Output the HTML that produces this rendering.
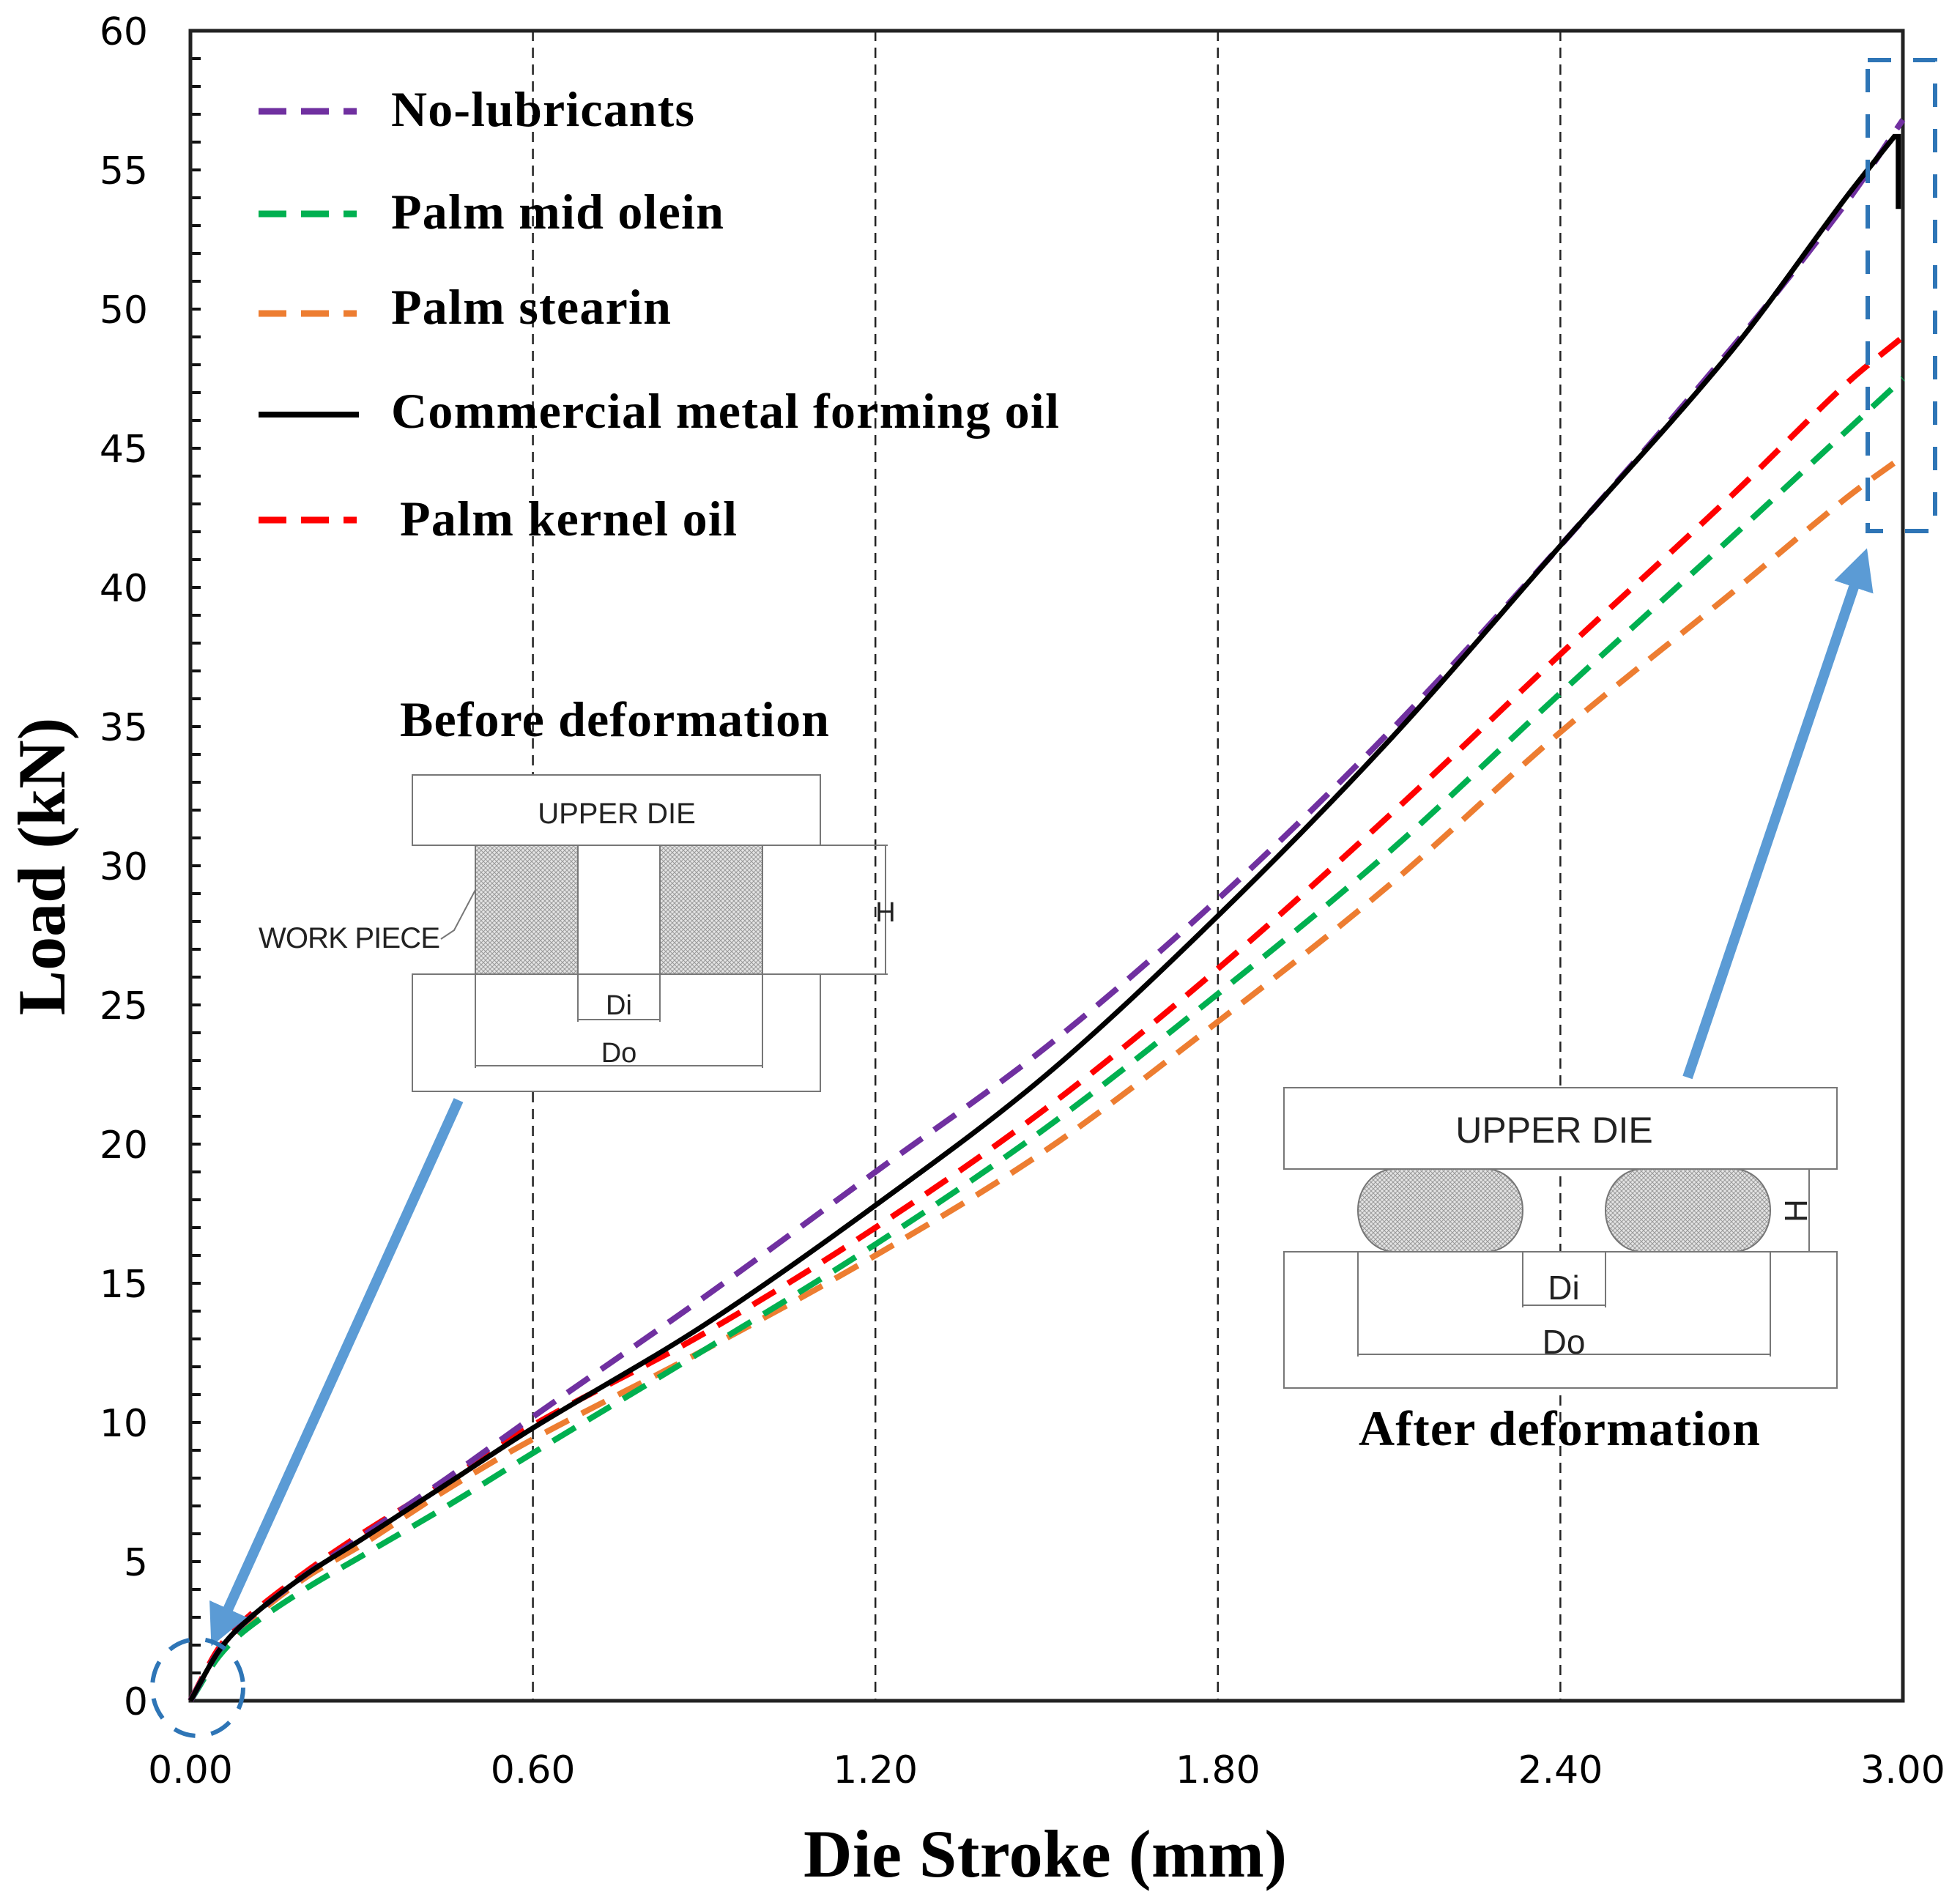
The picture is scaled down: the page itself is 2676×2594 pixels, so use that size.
<!DOCTYPE html>
<html><head><meta charset="utf-8"><style>
html,body{margin:0;padding:0;background:#fff}
svg{display:block}
.tk{font-family:"DejaVu Sans","Liberation Sans",sans-serif;font-size:52px;fill:#000}
.tt{font-family:"Liberation Serif",serif;font-weight:bold;fill:#000}
.sm{font-family:"Liberation Sans",sans-serif;fill:#222}
</style></head><body>
<svg id="chart" width="2676" height="2594" viewBox="0 0 2676 2594" xmlns="http://www.w3.org/2000/svg">
<defs>
<pattern id="hatch" width="6" height="6" patternUnits="userSpaceOnUse">
<rect width="6" height="6" fill="#e4e4e4"/><path d="M0 6L6 0M0 0L6 6" stroke="#999" stroke-width="1"/>
</pattern>
<marker id="ah" markerWidth="4" markerHeight="4" refX="2" refY="2" orient="auto" markerUnits="strokeWidth"><path d="M0,0 L4,2 L0,4 Z" fill="#5b9bd5"/></marker>
</defs>
<g id="grid"></g>
<g id="axes"></g>
<g id="series"></g>
<g id="legend">
<line x1="353" y1="152" x2="487" y2="152" stroke="#7030a0" stroke-width="9" stroke-dasharray="38,20"/>
<text class="tt" x="534" y="172" font-size="68" textLength="414">No-lubricants</text>
<line x1="353" y1="292" x2="487" y2="292" stroke="#00b050" stroke-width="9" stroke-dasharray="38,20"/>
<text class="tt" x="534" y="312" font-size="68" textLength="454">Palm mid olein</text>
<line x1="353" y1="428" x2="487" y2="428" stroke="#ed7d31" stroke-width="9" stroke-dasharray="38,20"/>
<text class="tt" x="534" y="442" font-size="68" textLength="382">Palm stearin</text>
<line x1="353" y1="566" x2="490" y2="566" stroke="#000" stroke-width="8"/>
<text class="tt" x="534" y="584" font-size="68" textLength="912">Commercial metal forming oil</text>
<line x1="353" y1="710" x2="487" y2="710" stroke="#ff0000" stroke-width="9" stroke-dasharray="38,20"/>
<text class="tt" x="546" y="731" font-size="68" textLength="460">Palm kernel oil</text>
</g>
<g id="before" stroke="#777" stroke-width="2" fill="none">
<text class="tt" x="546" y="1005" font-size="68" textLength="586" stroke="none">Before deformation</text>
<rect x="563" y="1058" width="557" height="96" fill="#fff"/>
<text class="sm" x="842" y="1124" font-size="40" text-anchor="middle" stroke="none">UPPER DIE</text>
<rect x="649" y="1154" width="140" height="176" fill="url(#hatch)"/>
<rect x="901" y="1154" width="140" height="176" fill="url(#hatch)"/>
<path d="M1041 1154H1212M1041 1330H1212M1209 1154V1330"/>
<text class="sm" x="1209" y="1258" font-size="38" text-anchor="middle" stroke="none">H</text>
<rect x="563" y="1330" width="557" height="160" fill="#fff"/>
<path d="M789 1154V1395M901 1154V1395M789 1392H901M649 1330V1458M1041 1330V1458M649 1455H1041"/>
<text class="sm" x="845" y="1385" font-size="38" text-anchor="middle" stroke="none">Di</text>
<text class="sm" x="845" y="1450" font-size="38" text-anchor="middle" stroke="none">Do</text>
<text class="sm" x="353" y="1294" font-size="40" textLength="248" stroke="none">WORK PIECE</text>
<path d="M602 1282L620 1270L649 1215"/>
</g>
<g id="after" stroke="#777" stroke-width="2" fill="none">
<rect x="1753" y="1485" width="755" height="111" fill="#fff"/>
<text class="sm" x="2122" y="1560" font-size="50" text-anchor="middle" stroke="none">UPPER DIE</text>
<rect x="1854" y="1596" width="225" height="113" rx="50" ry="56" fill="url(#hatch)"/>
<rect x="2192" y="1596" width="225" height="113" rx="50" ry="56" fill="url(#hatch)"/>
<rect x="1753" y="1709" width="755" height="186" fill="#fff"/>
<path d="M2417 1596H2485M2417 1709H2485M2470 1596V1709M2079 1709V1785M2192 1709V1785M2079 1782H2192M1854 1709V1852M2417 1709V1852M1854 1849H2417"/>
<text class="sm" x="0" y="0" font-size="44" text-anchor="middle" stroke="none" transform="translate(2467,1653) rotate(-90)">H</text>
<text class="sm" x="2135" y="1774" font-size="46" text-anchor="middle" stroke="none">Di</text>
<text class="sm" x="2135" y="1848" font-size="46" text-anchor="middle" stroke="none">Do</text>
<text class="tt" x="2129" y="1973" font-size="68" textLength="548" text-anchor="middle" stroke="none">After deformation</text>
</g>
<g>
<line x1="626" y1="1502" x2="300" y2="2222" stroke="#5b9bd5" stroke-width="14" marker-end="url(#ah)"/>
<line x1="2304" y1="1471" x2="2540" y2="775" stroke="#5b9bd5" stroke-width="14" marker-end="url(#ah)"/>
<ellipse cx="270" cy="2304" rx="62" ry="66" fill="none" stroke="#2e75b6" stroke-width="6" stroke-dasharray="30,22"/>
<rect x="2550" y="82" width="92" height="643" fill="none" stroke="#2e75b6" stroke-width="6" stroke-dasharray="32,30"/>
</g>
<text class="tt" x="1427" y="2562" font-size="92" textLength="660" text-anchor="middle">Die Stroke (mm)</text>
<text class="tt" x="0" y="0" font-size="92" text-anchor="middle" transform="translate(88,1183) rotate(-90)">Load (kN)</text>
</svg>
<script>
const xTicks=[0,0.6,1.2,1.8,2.4,3.0];
const xTickLabels=["0.00","0.60","1.20","1.80","2.40","3.00"];
const yTicks=[0,5,10,15,20,25,30,35,40,45,50,55,60];
const stroke=[0,0.05,0.1,0.2,0.3,0.45,0.6,0.9,1.2,1.5,1.8,2.1,2.4,2.7,2.9,3.0];
const noLub=[0,1.8,2.9,4.5,5.9,8.0,10.2,14.5,19.0,23.5,28.8,34.8,41.5,48.6,53.8,56.8];
const midOlein=[0,1.6,2.6,4.0,5.2,7.0,8.9,12.6,16.4,20.6,25.4,30.5,36.2,41.8,45.6,47.5];
const stearin=[0,1.7,2.8,4.4,5.6,7.6,9.4,12.6,16.0,19.8,24.4,29.3,34.8,39.8,43.2,44.7];
const commercial=[0,1.8,2.9,4.5,5.8,7.8,9.8,13.5,17.8,22.5,28.2,34.5,41.5,48.5,54.0,56.2];
const kernel=[0,1.9,3.0,4.6,6.0,7.9,9.9,13.2,17.0,21.3,26.3,31.8,37.6,43.3,47.3,49.0];
const X0=260,X1=2598,Y0=2322,Y1=42,XMAX=3,YMAX=60;
const sx=v=>X0+(X1-X0)*v/XMAX, sy=v=>Y0-(Y0-Y1)*v/YMAX;
const NS="http://www.w3.org/2000/svg";
function mk(tag,attrs,parent){const e=document.createElementNS(NS,tag);for(const k in attrs)e.setAttribute(k,attrs[k]);parent.appendChild(e);return e;}
const grid=document.getElementById('grid'),axes=document.getElementById('axes'),ser=document.getElementById('series');
xTicks.forEach((t,i)=>{
 if(i>0&&i<xTicks.length-1){const g=mk('line',{x1:sx(t),x2:sx(t),y1:Y1,y2:Y0,stroke:'#222','stroke-width':2.5,'stroke-dasharray':'14,9'},grid);
 
 }
 const l=mk('text',{x:sx(t),y:2434,'text-anchor':'middle',class:'tk'},axes);l.textContent=xTickLabels[i];
 
 
});
for(let v=0;v<=YMAX;v++){
 const tk=mk('line',{x1:X0,x2:X0+14,y1:sy(v),y2:sy(v),stroke:'#111','stroke-width':4},axes);
 
 
}
yTicks.forEach(t=>{const l=mk('text',{x:202,y:sy(t)+19,'text-anchor':'end',class:'tk'},axes);l.textContent=String(t);
 
 });
const fr=mk('rect',{x:X0,y:Y1,width:X1-X0,height:Y0-Y1,fill:'none',stroke:'#222','stroke-width':5},axes);


function smooth(xs,ys){
 const n=xs.length,m=[];
 for(let i=0;i<n;i++){const a=Math.max(i-1,0),b=Math.min(i+1,n-1);m.push((ys[b]-ys[a])/(xs[b]-xs[a]));}
 let d='M'+sx(xs[0])+' '+sy(ys[0]);
 for(let i=0;i<n-1;i++){const h=xs[i+1]-xs[i];
  d+=` C${sx(xs[i]+h/3)} ${sy(ys[i]+m[i]*h/3)} ${sx(xs[i+1]-h/3)} ${sy(ys[i+1]-m[i+1]*h/3)} ${sx(xs[i+1])} ${sy(ys[i+1])}`;}
 return d;}
const defs=[[stearin,'#ed7d31','stearin'],[midOlein,'#00b050','mid-olein'],[kernel,'#ff0000','kernel-oil'],[noLub,'#7030a0','no-lubricants']];
defs.forEach(([ys,c,n])=>{const p=mk('path',{d:smooth(stroke,ys),fill:'none',stroke:c,'stroke-width':8,'stroke-dasharray':'36,20'},ser);
 
 });
const cx=stroke.slice(0,-1).concat([2.985]);
const cp=mk('path',{d:smooth(cx,commercial)+` L${sx(2.992)} ${sy(commercial[commercial.length-1])} L${sx(2.992)} ${sy(commercial[commercial.length-1]-2.6)}`,fill:'none',stroke:'#000','stroke-width':7},ser);


</script>
</body></html>
